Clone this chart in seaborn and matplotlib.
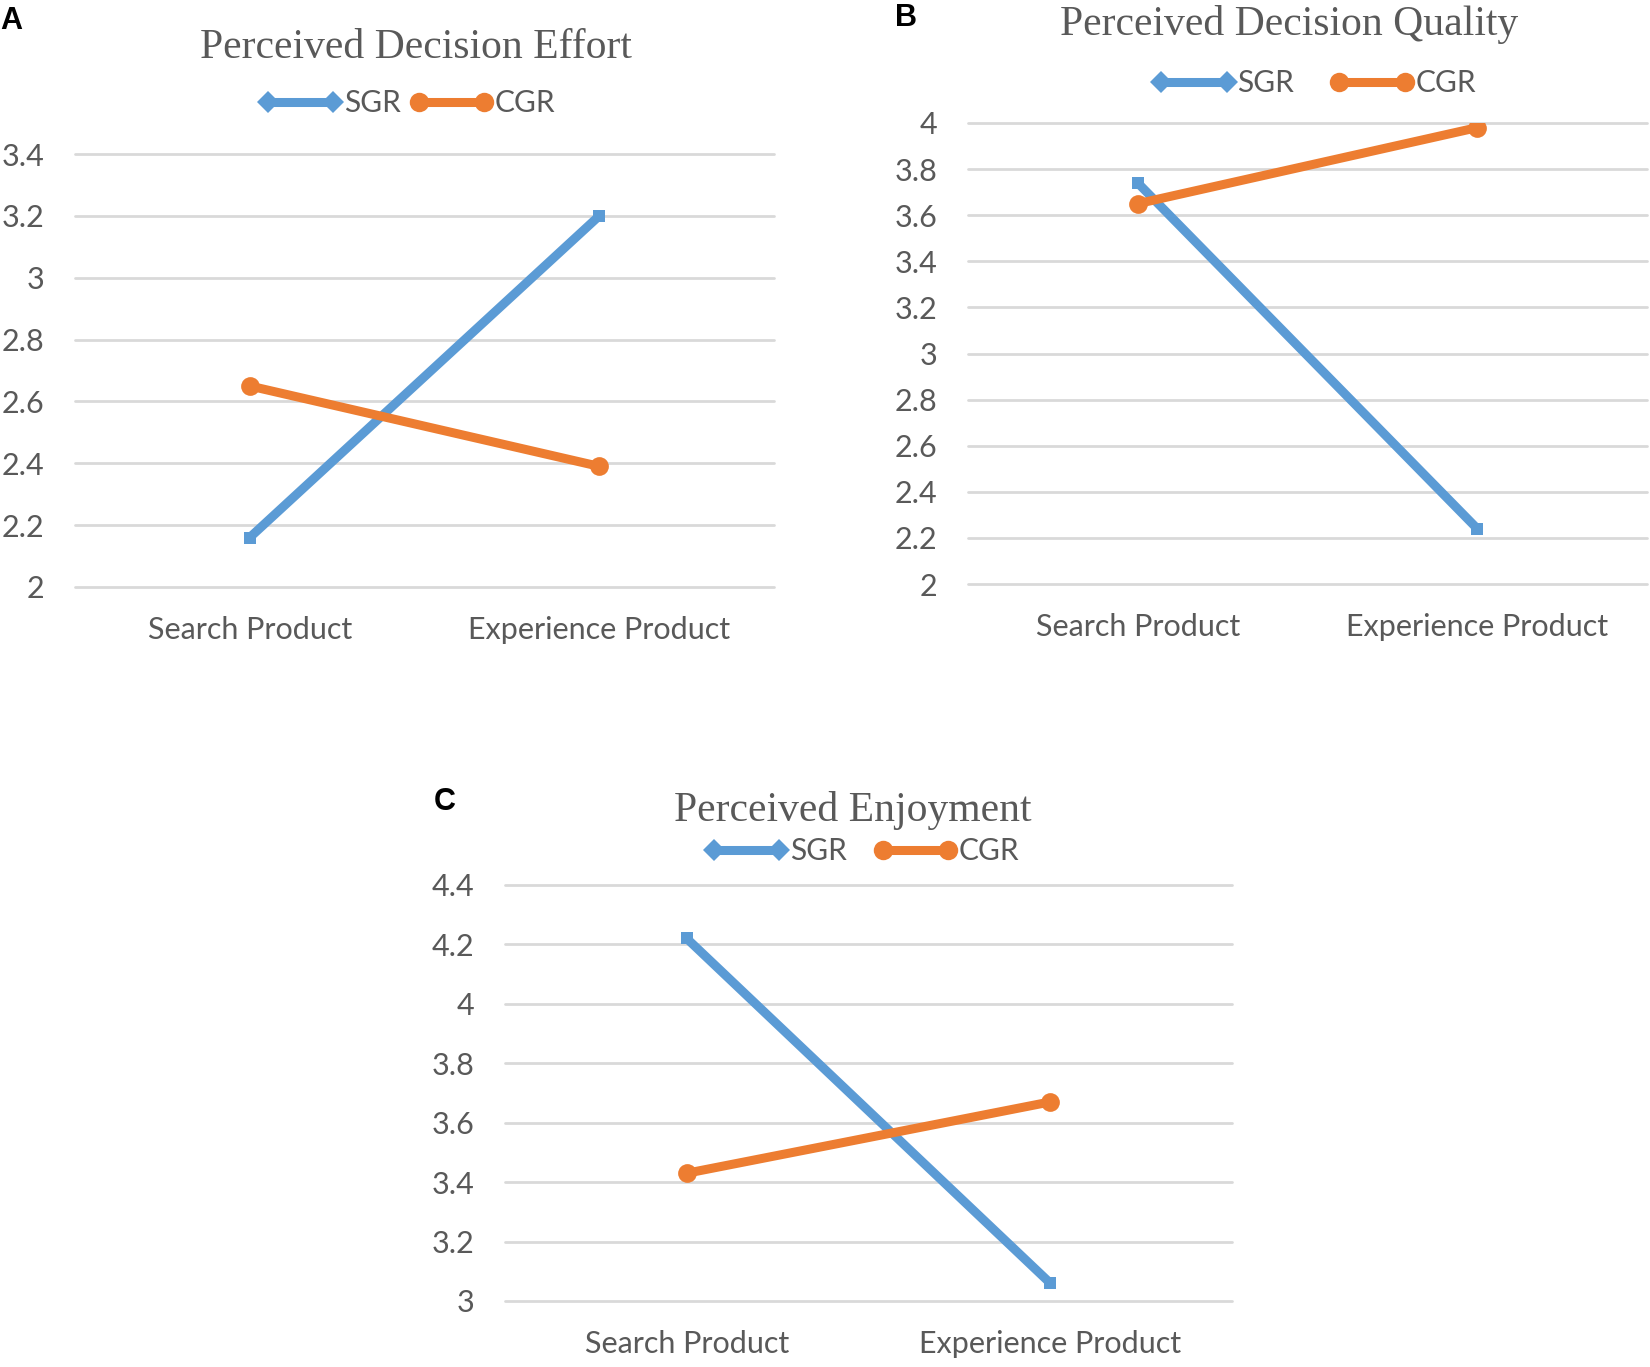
import numpy as np
import pandas as pd
import matplotlib
matplotlib.use("Agg")
import matplotlib.pyplot as plt
from matplotlib.lines import Line2D
import seaborn as sns

# ---- data ----
categories = ["Search Product", "Experience Product"]
series_names = ["SGR", "CGR"]

effort_sgr = [2.16, 3.20]
effort_cgr = [2.65, 2.39]

quality_sgr = [3.74, 2.24]
quality_cgr = [3.65, 3.98]

enjoy_sgr = [4.22, 3.06]
enjoy_cgr = [3.43, 3.67]

titles = ["Perceived Decision Effort", "Perceived Decision Quality", "Perceived Enjoyment"]
panel_letters = ["A", "B", "C"]

effort_ticks = [2, 2.2, 2.4, 2.6, 2.8, 3, 3.2, 3.4]
quality_ticks = [2, 2.2, 2.4, 2.6, 2.8, 3, 3.2, 3.4, 3.6, 3.8, 4]
enjoy_ticks = [3, 3.2, 3.4, 3.6, 3.8, 4, 4.2, 4.4]

# ---- style ----
sns.set_theme(style="white")
plt.rcParams["font.family"] = ["Lato", "DejaVu Sans"]

BLUE = "#5B9BD5"
ORANGE = "#ED7D31"
GRID = "#D9D9D9"
TXT = "#595959"
LW = 6.5
TICKFS = 22
LEGFS = 21.5
TITLEFS = 30

W, H = 1650, 1367
fig = plt.figure(figsize=(W / 100, H / 100), dpi=100)


def px_axes(x0, x1, ytop, ybot):
    return fig.add_axes([x0 / W, 1 - ybot / H, (x1 - x0) / W, (ybot - ytop) / H])


def fmt(v):
    return f"{v:g}"


def draw_panel(ax, sgr, cgr, ticks):
    xs = np.arange(len(categories))
    df_s = pd.DataFrame({"x": xs, "y": sgr})
    df_c = pd.DataFrame({"x": xs, "y": cgr})
    sns.lineplot(data=df_s, x="x", y="y", ax=ax, color=BLUE, linewidth=LW,
                 marker="s", markersize=9, markeredgewidth=0, sort=False,
                 errorbar=None, zorder=3)
    sns.lineplot(data=df_c, x="x", y="y", ax=ax, color=ORANGE, linewidth=LW,
                 marker="o", markersize=13.5, markeredgewidth=0, sort=False,
                 errorbar=None, zorder=4)
    ax.set_xlim(-0.5, len(categories) - 0.5)
    ax.set_ylim(ticks[0], ticks[-1])
    ax.set_yticks(ticks)
    ax.set_yticklabels([fmt(t) for t in ticks])
    ax.set_xticks(xs)
    ax.set_xticklabels(categories)
    ax.set_xlabel("")
    ax.set_ylabel("")
    for s in ax.spines.values():
        s.set_visible(False)
    ax.yaxis.grid(True, color=GRID, linewidth=2.0)
    ax.xaxis.grid(False)
    ax.set_axisbelow(True)
    for gl in ax.get_ygridlines():
        gl.set_clip_on(False)
    ax.tick_params(axis="y", length=0, pad=22, labelsize=TICKFS, labelcolor=TXT)
    ax.tick_params(axis="x", length=0, pad=21, labelsize=TICKFS, labelcolor=TXT)


def add_legend(cx, cy, colsp):
    handles = [
        Line2D([0], [0], color=BLUE, lw=LW, marker="D", markersize=11, markeredgewidth=0),
        Line2D([0], [0], color=ORANGE, lw=LW, marker="o", markersize=14, markeredgewidth=0),
    ]
    leg = fig.legend(handles, series_names, loc="center", bbox_to_anchor=(cx / W, 1 - cy / H),
                     ncol=2, frameon=False, numpoints=2, handlelength=2.8,
                     handletextpad=0.05, columnspacing=colsp, fontsize=LEGFS)
    for t in leg.get_texts():
        t.set_color(TXT)


# Panel A
axA = px_axes(75, 774, 154, 587)
draw_panel(axA, effort_sgr, effort_cgr, effort_ticks)
fig.text(416 / W, 1 - 48 / H, titles[0], family="Liberation Serif", fontsize=TITLEFS,
         color=TXT, ha="center", va="center")
add_legend(407, 103, 0.3)
fig.text(0 / W, 1 - 21 / H, panel_letters[0], family="Liberation Sans", fontsize=22,
         fontweight="bold", color="black", ha="left", va="center")

# Panel B
axB = px_axes(968, 1647, 123, 584)
draw_panel(axB, quality_sgr, quality_cgr, quality_ticks)
fig.text(1289 / W, 1 - 24 / H, titles[1], family="Liberation Serif", fontsize=TITLEFS,
         color=TXT, ha="center", va="center")
add_legend(1314, 83, 1.2)
fig.text(895 / W, 1 - 18 / H, panel_letters[1], family="Liberation Sans", fontsize=22,
         fontweight="bold", color="black", ha="left", va="center")

# Panel C
axC = px_axes(505, 1232, 885, 1301)
draw_panel(axC, enjoy_sgr, enjoy_cgr, enjoy_ticks)
fig.text(853 / W, 1 - 811 / H, titles[2], family="Liberation Serif", fontsize=TITLEFS,
         color=TXT, ha="center", va="center")
add_legend(862, 851, 0.9)
fig.text(434 / W, 1 - 802 / H, panel_letters[2], family="Liberation Sans", fontsize=22,
         fontweight="bold", color="black", ha="left", va="center")

fig.savefig("out.png", dpi=100, facecolor="white")
